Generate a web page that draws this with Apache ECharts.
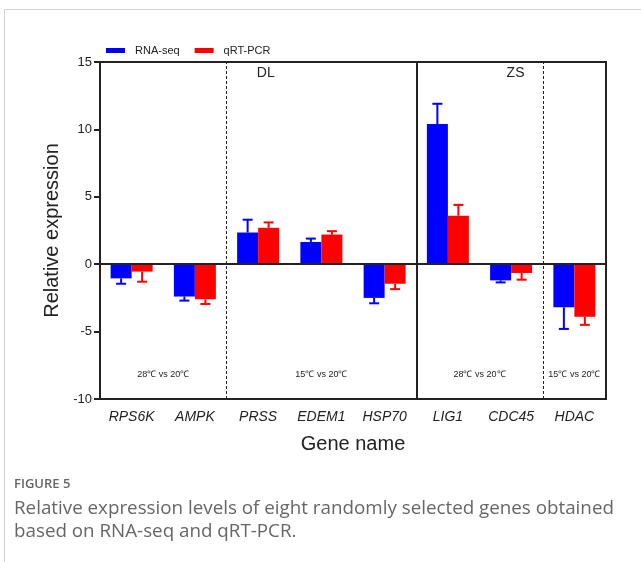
<!DOCTYPE html>
<html>
<head>
<meta charset="utf-8">
<script src="https://cdn.jsdelivr.net/npm/echarts@6/dist/echarts.min.js"></script>
<style>
  html, body { margin: 0; padding: 0; background: #fff; }
  #chart { width: 641px; height: 562px; }
</style>
</head>
<body>
<div id="chart"></div>
<script>
const genes = ['RPS6K', 'AMPK', 'PRSS', 'EDEM1', 'HSP70', 'LIG1', 'CDC45', 'HDAC']
const rnaSeq = [-1.05, -2.4, 2.35, 1.65, -2.5, 10.4, -1.2, -3.2]
const rnaErr = [0.4, 0.3, 0.95, 0.25, 0.4, 1.5, 0.15, 1.6]
const qpcr = [-0.55, -2.6, 2.7, 2.2, -1.45, 3.6, -0.65, -3.9]
const qpcrErr = [0.75, 0.35, 0.4, 0.25, 0.4, 0.8, 0.5, 0.6]
const yTicks = [-10, -5, 0, 5, 10, 15]
// group notes: [position on 0..8 scale, value, text, font size]
const groupNotes = [
  [2.62, 14.2, 'DL', 14], [6.57, 14.2, 'ZS', 14],
  [1.0, -8.2, '28℃ vs 20℃', 9], [3.5, -8.2, '15℃ vs 20℃', 9],
  [6.0, -8.2, '28℃ vs 20℃', 9], [7.5, -8.2, '15℃ vs 20℃', 9]
]
const dashedSplits = [2, 7]
const solidSplits = [5]

const BLUE = '#0000ff'
const RED = '#ff0000'
const BAR_W = 21

function errData(vals, errs) {
  return vals.map((v, i) => [i, v, v < 0 ? v - errs[i] : v + errs[i]])
}

function errSeries(name, vals, errs, color, side) {
  return {
    name: name + ' err',
    type: 'custom',
    z: 4,
    data: errData(vals, errs),
    renderItem(params, api) {
      const base = api.coord([api.value(0), api.value(1)])
      const end = api.coord([api.value(0), api.value(2)])
      const x = base[0] + side * BAR_W / 2
      const style = { stroke: color, lineWidth: 2 }
      return {
        type: 'group',
        children: [
          { type: 'line', shape: { x1: x, y1: base[1], x2: x, y2: end[1] }, style },
          { type: 'line', shape: { x1: x - 5, y1: end[1], x2: x + 5, y2: end[1] }, style }
        ]
      }
    }
  }
}

const chart = echarts.init(document.getElementById('chart'))
chart.setOption({
  animation: false,
  textStyle: { fontFamily: 'Liberation Sans, Arial, sans-serif' },
  graphic: [
    { type: 'rect', shape: { x: 4.5, y: 9.5, width: 700, height: 600 }, style: { fill: 'none', stroke: '#d0d0d0', lineWidth: 1 }, silent: true },
    { type: 'text', left: 14, top: 478, style: { text: 'FIGURE 5', font: '600 13px "Open Sans"', fill: '#666' } },
    { type: 'text', left: 14, top: 497, style: { text: 'Relative expression levels of eight randomly selected genes obtained\nbased on RNA-seq and qRT-PCR.', font: '18.8px "Open Sans"', lineHeight: 23, fill: '#666' } }
  ],
  legend: {
    data: ['RNA-seq', 'qRT-PCR'],
    left: 106,
    top: 45,
    padding: 0,
    itemWidth: 19,
    itemHeight: 5,
    itemGap: 15,
    icon: 'rect',
    textStyle: { fontSize: 11, color: '#222', padding: [0, 0, 0, 5] }
  },
  grid: {
    left: 100, right: 35, top: 62, bottom: 163,
    show: true, borderColor: '#222', borderWidth: 2
  },
  xAxis: [{
    type: 'category',
    data: genes,
    name: 'Gene name',
    nameLocation: 'middle',
    nameGap: 35,
    nameTextStyle: { fontSize: 20, color: '#222' },
    axisLine: { onZero: false, lineStyle: { color: '#222', width: 2 } },
    axisTick: { alignWithLabel: true, length: 6, lineStyle: { width: 2, color: '#222' } },
    axisLabel: { fontSize: 14, fontStyle: 'italic', color: '#222', margin: 11 }
  }, {
    type: 'value',
    min: 0, max: 8,
    show: false
  }],
  yAxis: {
    type: 'value',
    min: yTicks[0], max: yTicks[yTicks.length - 1], interval: 5,
    name: 'Relative expression',
    nameLocation: 'middle',
    nameGap: 29,
    nameTextStyle: { fontSize: 20, color: '#222' },
    axisLine: { show: true, lineStyle: { color: '#222', width: 2 } },
    axisTick: { show: true, length: 6, lineStyle: { width: 2, color: '#222' } },
    axisLabel: { fontSize: 13, color: '#222', margin: 8 },
    splitLine: { show: false }
  },
  series: [{
    name: 'RNA-seq',
    type: 'bar',
    data: rnaSeq,
    barWidth: BAR_W,
    barGap: '0%',
    itemStyle: { color: BLUE }
  }, {
    name: 'qRT-PCR',
    type: 'bar',
    data: qpcr,
    barWidth: BAR_W,
    itemStyle: { color: RED }
  },
  errSeries('RNA-seq', rnaSeq, rnaErr, BLUE, -1),
  errSeries('qRT-PCR', qpcr, qpcrErr, RED, 1),
  {
    name: 'notes',
    type: 'custom',
    xAxisIndex: 1,
    z: 6,
    data: groupNotes,
    renderItem(params, api) {
      const p = api.coord([api.value(0), api.value(1)])
      const item = groupNotes[params.dataIndex]
      return {
        type: 'text',
        style: {
          x: p[0], y: p[1], text: item[2], fill: '#222',
          font: item[3] + 'px "Liberation Sans", Arial',
          textAlign: 'center', textVerticalAlign: 'middle'
        }
      }
    },
    markLine: {
      silent: true,
      symbol: 'none',
      label: { show: false },
      data: [
        ...dashedSplits.map(v => ({ xAxis: v, lineStyle: { type: [3, 2], width: 1, color: '#222' } })),
        ...solidSplits.map(v => ({ xAxis: v, lineStyle: { type: 'solid', width: 2, color: '#222' } })),
        { yAxis: 0, lineStyle: { type: 'solid', width: 2, color: '#222' } }
      ]
    }
  }]
})
</script>
</body>
</html>
